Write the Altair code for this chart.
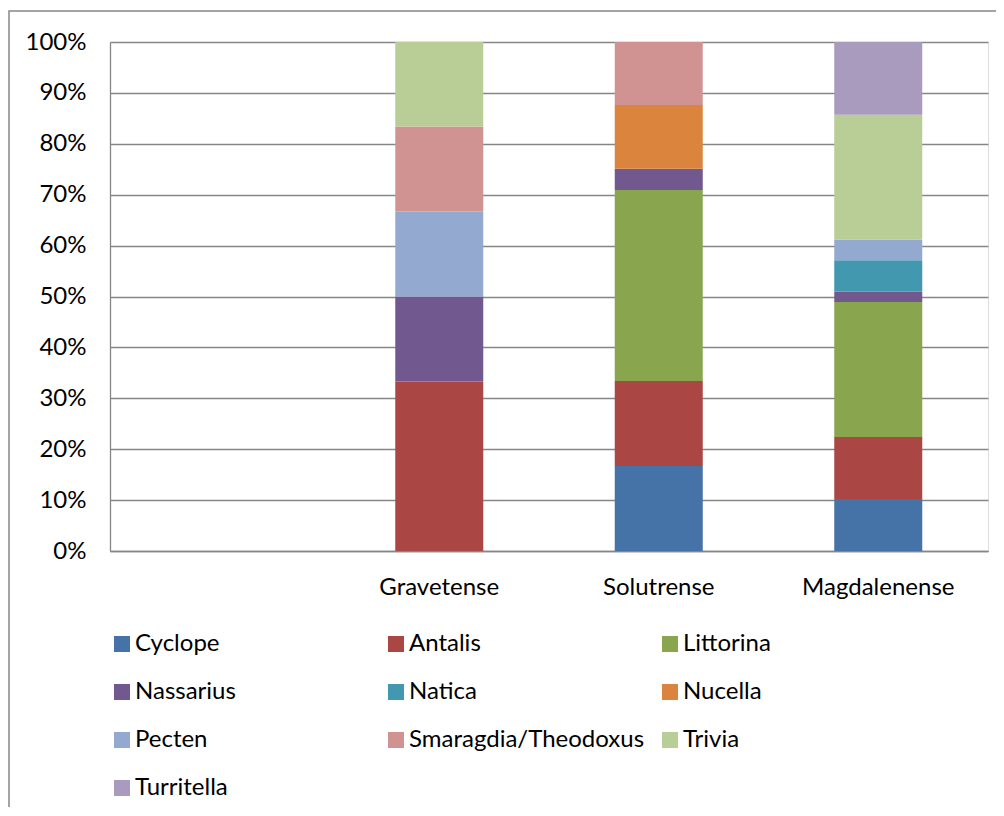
import altair as alt
import pandas as pd

periods = [" ", "Gravetense", "Solutrense", "Magdalenense"]
species = ["Cyclope", "Antalis", "Littorina", "Nassarius", "Natica", "Nucella",
           "Pecten", "Smaragdia/Theodoxus", "Trivia", "Turritella"]
colors = ["#4572A7", "#AA4643", "#89A54E", "#71588F", "#4198AF", "#DB843D",
          "#93A9CF", "#D19392", "#B9CD96", "#A99BBD"]

# percentage shares per period, in species order
gravetense = [0, 33.3, 0, 16.7, 0, 0, 16.7, 16.7, 16.6, 0]
solutrense = [16.7, 16.7, 37.5, 4.2, 0, 12.5, 0, 12.4, 0, 0]
magdalenense = [10.2, 12.2, 26.5, 2.1, 6.1, 0, 4.1, 0, 24.5, 14.3]

rows = []
for period, vals in [("Gravetense", gravetense), ("Solutrense", solutrense),
                     ("Magdalenense", magdalenense)]:
    for i, (sp, v) in enumerate(zip(species, vals)):
        rows.append({"period": period, "species": sp, "idx": i, "share": v / 100.0})
df = pd.DataFrame(rows)

FONT = "Lato"
FS = 24

bars = alt.Chart(df).mark_bar(size=88).encode(
    x=alt.X("period:N", scale=alt.Scale(domain=periods, paddingInner=0.6, paddingOuter=0.3),
            sort=periods,
            axis=alt.Axis(title=None, labelAngle=0, ticks=False, labelPadding=24,
                          labelFontSize=FS, labelFont=FONT, labelColor="#000000",
                          domainColor="#868686", domainWidth=1.3, grid=False)),
    y=alt.Y("share:Q", stack="zero",
            scale=alt.Scale(domain=[0, 1]),
            axis=alt.Axis(title=None, format=".0%", values=[i / 10 for i in range(11)],
                          ticks=False, labelPadding=24, labelFontSize=FS, labelFont=FONT,
                          labelColor="#000000", domainColor="#868686", domainWidth=1.3,
                          gridColor="#868686", gridWidth=1.3)),
    color=alt.Color("species:N", scale=alt.Scale(domain=species, range=colors),
                    legend=alt.Legend(title=None, orient="none", legendX=0, legendY=590,
                                      padding=0,
                                      columns=3, direction="horizontal",
                                      symbolType="square", symbolSize=256,
                                      symbolStrokeWidth=0, labelFontSize=FS, labelFont=FONT,
                                      labelColor="#000000", rowPadding=24, columnPadding=13,
                                      gridAlign="all", labelOffset=1, labelLimit=400)),
    order=alt.Order("idx:Q", sort="ascending"),
)

border = alt.Chart(alt.Data(values=[{}])).mark_rect(
    fill=None, stroke="#868686", strokeWidth=1.5
).encode(x=alt.value(-101), x2=alt.value(1200), y=alt.value(-31), y2=alt.value(1000))

chart = alt.layer(border, bars).properties(
    width=878, height=509,
    autosize=alt.AutoSizeParams(type="none"),
    padding={"left": 102, "top": 34, "right": 8, "bottom": 256},
).configure_view(stroke=None).configure(background="#ffffff")

chart.save("out.html", embed_options={"renderer": "svg", "actions": False})
